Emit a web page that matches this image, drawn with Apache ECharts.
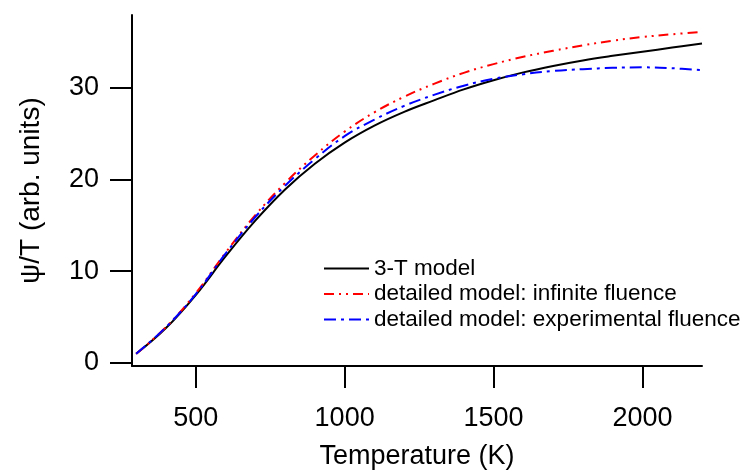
<!DOCTYPE html>
<html>
<head>
<meta charset="utf-8">
<script src="https://cdn.jsdelivr.net/npm/echarts@6/dist/echarts.min.js"></script>
<style>html,body{margin:0;padding:0;background:#fff}#c{width:744px;height:475px}</style>
</head>
<body>
<div id="c"></div>
<script>
const temps = [300,400,500,600,700,800,900,1000,1100,1200,1300,1400,1500,1600,1700,1800,1900,2000,2100,2200];
const model3T = [1.0,3.8,7.4,11.6,15.5,18.9,21.7,24.0,25.85,27.35,28.6,29.8,30.8,31.65,32.35,32.95,33.45,33.9,34.35,34.8];
const infiniteFluence = [1.0,3.9,7.6,12.0,16.1,19.6,22.6,25.2,27.3,29.0,30.4,31.6,32.55,33.35,34.0,34.6,35.1,35.5,35.8,36.05];
const experimentalFluence = [1.0,3.9,7.5,11.9,15.9,19.3,22.2,24.7,26.5,28.0,29.2,30.2,30.95,31.45,31.8,32.0,32.15,32.2,32.1,31.9];
const xTicks = [500,1000,1500,2000];
const yTicks = [0,10,20,30];
const seriesNames = ['3-T model','detailed model: infinite fluence','detailed model: experimental fluence'];

const pair = (xs, ys) => xs.map((x,i)=>[x, ys[i]]);
const font = 'Liberation Sans, Arial, sans-serif';
const chart = echarts.init(document.getElementById('c'), null, {renderer:'canvas'});
chart.setOption({
  animation:false,
  backgroundColor:'#fff',
  grid:{left:132, top:15, right:42, bottom:107, containLabel:false},
  legend:{
    orient:'vertical', left:318, top:252, itemWidth:45, itemHeight:14, itemGap:2.5,
    textStyle:{fontFamily:font, fontSize:22.5, color:'#000'},
    itemStyle:{opacity:0},
    data:seriesNames
  },
  xAxis:{
    type:'value', min:286, max:2200,
    name:'Temperature (K)', nameLocation:'middle', nameGap:77,
    nameTextStyle:{fontFamily:font, fontSize:27, color:'#000'},
    axisLine:{show:true, onZero:false, lineStyle:{color:'#000', width:2}},
    axisTick:{show:true, length:22, lineStyle:{color:'#000', width:2}, customValues:xTicks},
    axisLabel:{fontFamily:font, fontSize:27, color:'#000', margin:39, customValues:xTicks,
      formatter:(v)=>String(v)},
    splitLine:{show:false}
  },
  yAxis:{
    type:'value', min:-0.33, max:37.9,
    name:'ψ/T (arb. units)', nameLocation:'middle', nameGap:87,
    nameTextStyle:{fontFamily:font, fontSize:28, color:'#000'},
    axisLine:{show:true, onZero:false, lineStyle:{color:'#000', width:2}},
    axisTick:{show:true, length:22, lineStyle:{color:'#000', width:2}, customValues:yTicks},
    axisLabel:{fontFamily:font, fontSize:27, color:'#000', margin:33, customValues:yTicks,
      formatter:(v)=>String(v)},
    splitLine:{show:false}
  },
  series:[
    {name:seriesNames[0], type:'line', data:pair(temps, model3T), smooth:0.4, symbol:'none',
     lineStyle:{color:'#000', width:2, type:'solid'}, itemStyle:{color:'#000'}, z:3},
    {name:seriesNames[1], type:'line', data:pair(temps, infiniteFluence), smooth:0.4, symbol:'none',
     lineStyle:{color:'#ff0000', width:2, type:[10,5,2,5,2,5]}, itemStyle:{color:'#ff0000'}, z:4},
    {name:seriesNames[2], type:'line', data:pair(temps, experimentalFluence), smooth:0.4, symbol:'none',
     lineStyle:{color:'#0000ff', width:2, type:[12,5,3,5]}, itemStyle:{color:'#0000ff'}, z:5}
  ]
});
</script>
</body>
</html>
